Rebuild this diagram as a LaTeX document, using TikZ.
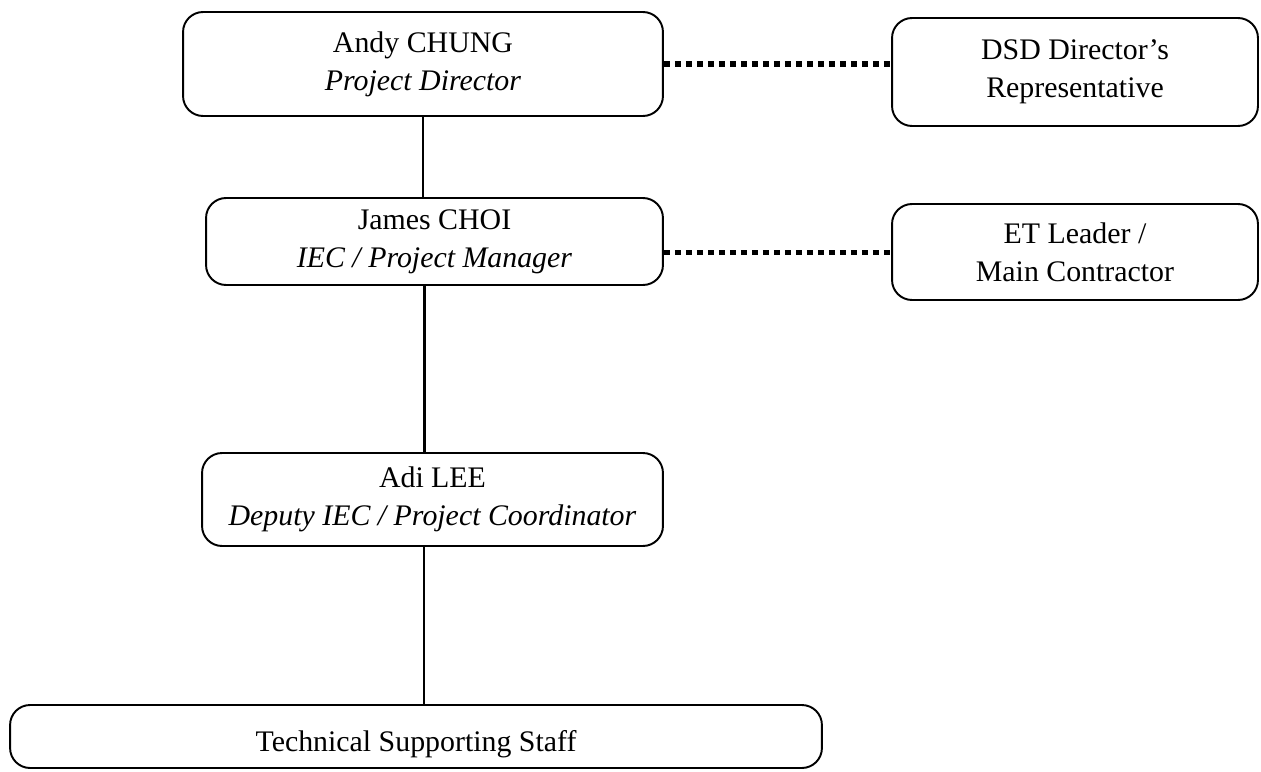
\documentclass[tikz,border=0pt]{standalone}
\usepackage{fontspec}
\setmainfont{Liberation Serif}
\usetikzlibrary{positioning}

\begin{document}
\begin{tikzpicture}[x=0.02cm, y=-0.02cm,
    box/.style={draw, rounded corners=0.4cm, line width=1.1pt, align=center,
      inner sep=0pt, font=\fontsize{17}{21.5}\selectfont},
    link/.style={line width=1.6pt},
    liaison/.style={line width=3.2pt, dash pattern=on 0.12cm off 0.10cm}]
        % Bounding box of the sheet
        \useasboundingbox (0,0) rectangle (1261,771);

        % Main chain
        \node[box, minimum width=9.6cm, minimum height=2.08cm] (chung) at (423,64)
          {Andy CHUNG\\ \textit{Project Director}};
        \node[box, minimum width=9.14cm, minimum height=1.74cm] (choi) at (434.5,241.5)
          {James CHOI\\ \textit{IEC / Project Manager}};
        \node[box, minimum width=9.22cm, minimum height=1.86cm] (lee) at (432.5,499.5)
          {Adi LEE\\ \textit{Deputy IEC / Project Coordinator}};
        \node[box, minimum width=16.24cm, minimum height=1.26cm, text height=0.7cm, text depth=0.1cm] (staff) at (416,736.5)
          {Technical Supporting Staff};

        % Side boxes
        \node[box, minimum width=7.32cm, minimum height=2.16cm] (dsd) at (1075,72)
          {DSD Director's\\ Representative};
        \node[box, minimum width=7.32cm, minimum height=1.92cm] (et) at (1075,252)
          {ET Leader /\\ Main Contractor};

        % Reporting lines
        \draw[link] (chung.south) -- (chung.south |- choi.north);
        \draw[link] ([xshift=-0.2cm]choi.south) -- ([xshift=-0.2cm]choi.south |- lee.north);
        \draw[link] ([xshift=-0.17cm]lee.south) -- ([xshift=-0.17cm]lee.south |- staff.north);

        % Liaison (dotted)
        \draw[liaison] (chung.east) -- (chung.east -| dsd.west);
        \draw[liaison] ([yshift=-0.22cm]choi.east) -- ([yshift=-0.22cm]choi.east -| et.west);
    \end{tikzpicture}
\end{document}
